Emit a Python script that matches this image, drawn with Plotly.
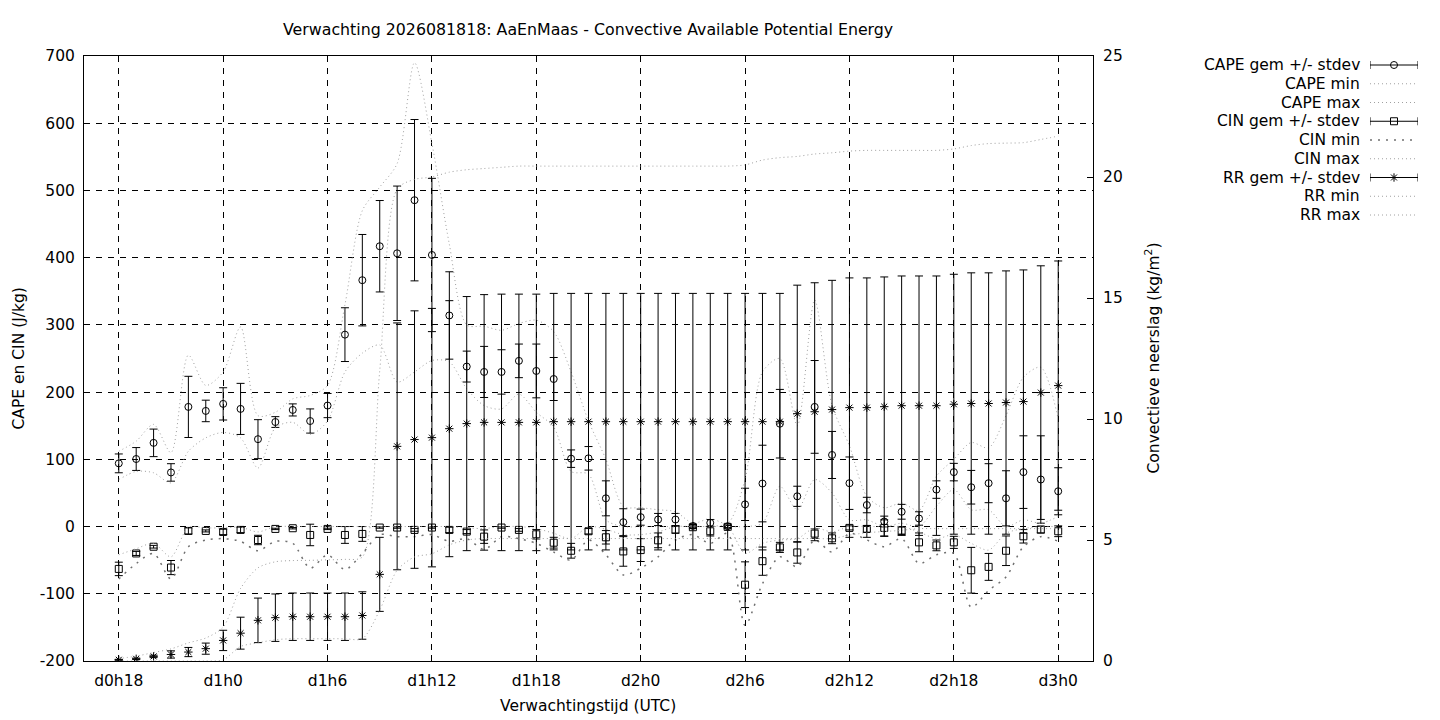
import plotly.graph_objects as go

# forecast hours after d0h18 (one value per hour)
hours = list(range(55))
tick_hours = [0, 6, 12, 18, 24, 30, 36, 42, 48, 54]
tick_labels = ["d0h18", "d1h0", "d1h6", "d1h12", "d1h18", "d2h0", "d2h6", "d2h12", "d2h18", "d3h0"]
y_ticks = [-200, -100, 0, 100, 200, 300, 400, 500, 600, 700]
y_tick_labels = ["-200", "-100", "0", "100", "200", "300", "400", "500", "600", "700"]
y2_ticks = [0, 5, 10, 15, 20, 25]

# CAPE (J/kg)
cape_mean = [94, 100.5, 124.5, 80.5, 178, 172, 182.5, 175, 130, 155.5, 173.5, 157, 180,
             285.5, 366.5, 417, 406.5, 485.5, 404, 314, 238, 230, 230, 246.5, 231.5, 219.5,
             101, 101.5, 42, 6.5, 14, 10.5, 10.5, 1, 5.5, 0.5, 33, 64, 153,
             45, 178, 106.5, 64.5, 32, 7.5, 22, 12, 55, 81, 58.5, 64.5, 42, 81, 70, 52.5]
cape_sd = [14, 17, 20.5, 13, 45.5, 16, 24, 38, 29, 8, 9, 18, 18,
           40, 68, 68, 100, 120, 114, 65, 23, 38, 33, 25, 40, 32,
           13, 17.5, 26, 20, 12, 9, 9, 2, 5, 2, 24, 57, 51,
           15, 69, 35, 39, 11.5, 8, 11, 10, 13, 13, 25, 29, 41, 54, 65, 35]
cape_min = [70, 82, 80, 65, 112, 132, 140, 132, 87, 147, 155, 137, 157,
            230, 258, 270, 215, 230, 247, 245, 205, 180, 175, 197, 170, 148,
            82, 78, 10, 0, 0, 0, 0, 0, 0, 0, 0, 5, 60,
            25, 70, 50, 10, 10, 0, 5, 0, 30, 55, 25, 25, 0, 10, 5, 15]
cape_max = [112, 127, 152, 110, 255, 210, 230, 297, 165, 170, 190, 195, 210,
            330, 470, 505, 540, 690, 570, 420, 300, 298, 292, 302, 307, 290,
            230, 157, 100, 30, 28, 25, 22, 5, 12, 5, 70, 230, 250,
            150, 337, 180, 120, 45, 28, 35, 24, 75, 100, 125, 117, 165, 222, 237, 160]

# CIN (J/kg)
cin_mean = [-63, -40, -30, -61, -6.5, -6.5, -8, -5, -20, -3.5, -2.5, -12.5, -3.5,
            -12.5, -11, -1.5, -1.5, -5, -1.5, -5, -7.5, -15, -1.5, -5, -11.5, -24,
            -36, -7, -16, -37, -35, -20.5, -4.5, -1, -7, -0.5, -86.5, -51.5, -31,
            -38.5, -10.5, -17.5, -2, -3.5, -2, -6, -23.5, -28, -23.5, -65, -60, -36, -14.5, -4.5, -7]
cin_sd = [10, 3, 2, 10.5, 4.5, 1.5, 4, 4, 7, 1, 1, 16, 1,
          12.5, 11, 1, 1, 2, 1, 4, 3, 10, 1, 2, 7, 8,
          11, 4, 10, 22, 17, 11, 5.5, 2, 7, 2, 34, 21, 7.5,
          16, 7, 8, 3, 5, 12, 6, 14, 8, 9, 34, 20, 22, 10, 5, 8]
cin_min = [-78, -55, -40, -78, -30, -20, -18, -22, -36, -22, -25, -62, -42,
           -64, -40, -12, -15, -15, -12, -22, -18, -34, -15, -18, -25, -38,
           -50, -20, -42, -72, -62, -45, -20, -12, -25, -10, -147, -85, -45,
           -60, -20, -38, -10, -20, -30, -18, -55, -42, -40, -120, -95, -75, -30, -15, -22]
cin_max = [-42, -33, -25, -45, -1, -2, -2, -1, -8, 0, 0, 0, 0,
           0, 0, 0, 0, 0, 0, 0, -2, -3, 0, 0, -3, -10,
           -18, 0, -4, -12, -12, -8, 0, 0, 0, 0, -40, -25, -20,
           -18, -2, -8, 0, 0, 0, 0, -8, -18, -12, -25, -35, -10, -3, 0, 0]

# convective precipitation (kg/m2), right axis
rr_mean = [0.05, 0.09, 0.19, 0.27, 0.37, 0.51, 0.85, 1.15, 1.68, 1.79, 1.83, 1.83, 1.83,
           1.83, 1.88, 3.58, 8.87, 9.15, 9.23, 9.6, 9.81, 9.86, 9.86, 9.86, 9.86, 9.89,
           9.89, 9.89, 9.89, 9.89, 9.89, 9.89, 9.89, 9.89, 9.89, 9.89, 9.89, 9.89, 9.89,
           10.22, 10.3, 10.39, 10.47, 10.47, 10.51, 10.55, 10.55, 10.55, 10.61, 10.64, 10.64,
           10.68, 10.72, 11.09, 11.38]
rr_sd = [0.02, 0.03, 0.05, 0.15, 0.19, 0.23, 0.42, 0.66, 0.92, 0.98, 0.98, 0.98, 0.98,
         0.98, 0.98, 1.53, 5.1, 5.32, 5.34, 5.29, 5.25, 5.28, 5.3, 5.3, 5.3, 5.3,
         5.3, 5.3, 5.3, 5.3, 5.3, 5.3, 5.3, 5.3, 5.3, 5.3, 5.3, 5.3, 5.3,
         5.31, 5.33, 5.34, 5.36, 5.36, 5.36, 5.36, 5.36, 5.36, 5.37, 5.4, 5.4, 5.44, 5.44, 5.24, 5.15]
rr_min = [0, 0, 0, 0, 0, 0, 0.05, 0.6, 0.75, 0.88, 0.92, 0.92, 0.92,
          0.92, 0.92, 2.1, 3.75, 4.3, 4.43, 4.8, 5.0, 5.06, 5.06, 5.06, 5.06, 5.06,
          5.06, 5.06, 5.06, 5.06, 5.06, 5.06, 5.06, 5.06, 5.06, 5.06, 5.06, 5.06, 5.06,
          5.06, 5.06, 5.06, 5.2, 5.3, 5.35, 5.4, 5.47, 5.47, 5.47, 5.47, 5.47, 5.47, 5.47, 5.47, 5.47]
rr_max = [0.1, 0.2, 0.35, 0.5, 0.75, 0.95, 1.4, 3.0, 3.85, 4.1, 4.15, 4.16, 4.18,
          4.2, 4.3, 12.0, 19.5, 19.9, 20.0, 20.2, 20.3, 20.35, 20.4, 20.45, 20.45, 20.45,
          20.45, 20.45, 20.45, 20.45, 20.45, 20.45, 20.45, 20.45, 20.45, 20.45, 20.5, 20.7, 20.8,
          20.85, 20.95, 21.0, 21.07, 21.1, 21.1, 21.1, 21.1, 21.1, 21.16, 21.3, 21.38, 21.4, 21.42,
          21.55, 21.69]

FONT = "DejaVu Sans"
FS = 15.5
GRAY = "#a0a0a0"
DOT = "1px,3px"
SPARSE = "2px,6px"
# the page body has an 8px margin, so the figure is shifted by that amount
PAD = 8
L, T = 84 - PAD, 56 - PAD      # plot area top-left in figure px
PW, PH = 1356, 605             # plot area incl. right key zone / plot height

fig = go.Figure()


def errtrace(y, sd, symbol, name, yaxis="y"):
    return go.Scatter(x=hours, y=y, mode="markers", name=name, yaxis=yaxis,
                      marker=dict(symbol=symbol, size=7, color="black",
                                  line=dict(color="black", width=1)),
                      error_y=dict(type="data", array=sd, visible=True,
                                   color="black", thickness=1, width=4))


def dotline(y, name, yaxis="y", dash=DOT, color=GRAY, width=1):
    return go.Scatter(x=hours, y=y, mode="lines", name=name, yaxis=yaxis,
                      line=dict(color=color, width=width, dash=dash,
                                shape="spline", smoothing=0.8))


fig.add_trace(errtrace(cape_mean, cape_sd, "circle-open", "CAPE gem +/- stdev"))
fig.add_trace(dotline(cape_min, "CAPE min"))
fig.add_trace(dotline(cape_max, "CAPE max"))
fig.add_trace(errtrace(cin_mean, cin_sd, "square-open", "CIN gem +/- stdev"))
fig.add_trace(dotline(cin_min, "CIN min", dash=SPARSE, color="#707070", width=1.5))
fig.add_trace(dotline(cin_max, "CIN max"))
fig.add_trace(errtrace(rr_mean, rr_sd, "asterisk-open", "RR gem +/- stdev", yaxis="y2"))
fig.add_trace(dotline(rr_min, "RR min", yaxis="y2"))
fig.add_trace(dotline(rr_max, "RR max", yaxis="y2"))

# gnuplot-style key: text right aligned, sample to the right of it
# (key rows are in screen px, y3 is set up as a pixel axis)
key = [("CAPE gem +/- stdev", "bar", "circle-open"),
       ("CAPE min", DOT, None), ("CAPE max", DOT, None),
       ("CIN gem +/- stdev", "bar", "square-open"),
       ("CIN min", SPARSE, None), ("CIN max", DOT, None),
       ("RR gem +/- stdev", "bar", "asterisk-open"),
       ("RR min", DOT, None), ("RR max", DOT, None)]
annots = []
for i, (label, style, sym) in enumerate(key):
    row = 65 + i * 18.75
    if style == "bar":
        fig.add_trace(go.Scatter(x=[0, 1, None, 0, 0, None, 1, 1],
                                 y=[row, row, None, row - 4, row + 4, None, row - 4, row + 4],
                                 mode="lines", line=dict(color="black", width=1),
                                 xaxis="x3", yaxis="y3", showlegend=False, hoverinfo="skip"))
        fig.add_trace(go.Scatter(x=[0.5], y=[row], mode="markers", xaxis="x3", yaxis="y3",
                                 marker=dict(symbol=sym, size=7, color="black",
                                             line=dict(color="black", width=1)),
                                 showlegend=False, hoverinfo="skip"))
    else:
        sparse = style == SPARSE
        fig.add_trace(go.Scatter(x=[0, 1], y=[row, row], mode="lines", xaxis="x3", yaxis="y3",
                                 line=dict(color="#707070" if sparse else GRAY,
                                           width=1.5 if sparse else 1, dash=style),
                                 showlegend=False, hoverinfo="skip"))
    annots.append(dict(text=label, xref="paper", yref="y3", x=(1362 - 84) / PW, y=row,
                       xanchor="right", yanchor="middle", showarrow=False,
                       font=dict(family=FONT, size=FS, color="black")))

annots += [
    dict(text="Verwachting 2026081818: AaEnMaas - Convective Available Potential Energy",
         xref="paper", yref="paper", x=0.3720, y=(661 - 29) / PH, xanchor="center",
         yanchor="middle", showarrow=False, font=dict(family=FONT, size=15.8, color="black")),
    dict(text="Verwachtingstijd (UTC)", xref="paper", yref="paper", x=0.3720,
         y=(661 - 706) / PH, xanchor="center", yanchor="middle", showarrow=False,
         font=dict(family=FONT, size=FS, color="black")),
    dict(text="CAPE en CIN (J/kg)", xref="paper", yref="paper", x=(18 - 84) / PW, y=0.5,
         xanchor="center", yanchor="middle", textangle=-90, showarrow=False,
         font=dict(family=FONT, size=FS, color="black")),
    dict(text="Convectieve neerslag (kg/m<sup>2</sup>)", xref="paper", yref="paper",
         x=(1153 - 84) / PW, y=0.5, xanchor="center", yanchor="middle", textangle=-90,
         showarrow=False, font=dict(family=FONT, size=FS, color="black")),
]

axis_common = dict(showline=True, linecolor="black", linewidth=1, ticks="inside",
                   ticklen=6, tickcolor="black", zeroline=False,
                   tickfont=dict(family=FONT, size=FS, color="black"))

fig.update_layout(
    width=L + PW, height=T + PH + 59,
    margin=dict(l=L, r=0, t=T, b=59),
    paper_bgcolor="white", plot_bgcolor="white",
    showlegend=False,
    font=dict(family=FONT, size=FS, color="black"),
    xaxis=dict(domain=[0, 1009 / PW], range=[-2, 56], tickvals=tick_hours,
               ticktext=tick_labels, showgrid=True, gridcolor="black", gridwidth=1,
               griddash="6px,6px", mirror="ticks", ticklabelstandoff=5, **axis_common),
    yaxis=dict(range=[-200, 700], tickvals=y_ticks, ticktext=y_tick_labels,
               showgrid=True, gridcolor="black", gridwidth=1, griddash="6px,6px",
               mirror=True, ticklabelstandoff=5, **axis_common),
    yaxis2=dict(overlaying="y", side="right", anchor="x", range=[0, 25],
                tickvals=y2_ticks, showgrid=False, ticklabelstandoff=6,
                **axis_common),
    xaxis3=dict(domain=[(1370 - 84) / PW, (1418 - 84) / PW], anchor="y3",
                range=[0, 1], visible=False),
    yaxis3=dict(domain=[0, 1], anchor="x3", range=[661, 56], visible=False),
    annotations=annots,
)

fig.write_html("out.html")
